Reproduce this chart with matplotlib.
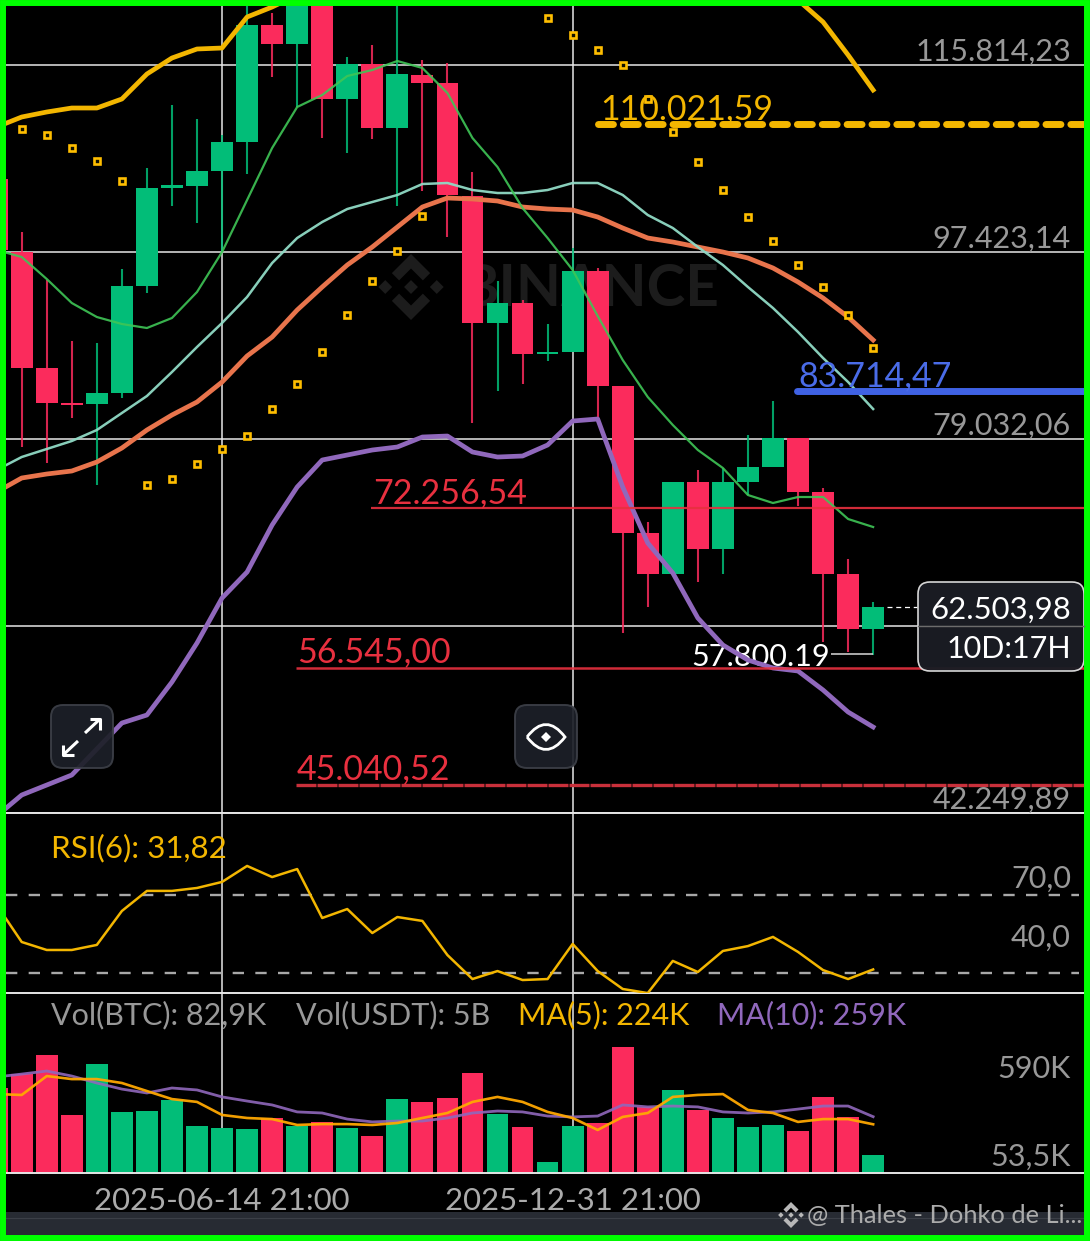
import numpy as np
import matplotlib
matplotlib.use("Agg")
import matplotlib.pyplot as plt
from matplotlib.patches import FancyBboxPatch, PathPatch, Polygon, Rectangle
from matplotlib.path import Path

plt.rcParams['font.family'] = ['Lato', 'DejaVu Sans']

nan = float('nan')

# candles start one bar left of the frame (only its edge shows)
index = np.arange(-1, 35)
opens = [104603, 97423, 86014, 82572, 82473, 83556, 94079, 103717, 103914, 105388, 108242, 119748,
         117880, 124174, 112470, 115913, 109618, 114831, 114044, 102930, 90440, 92407, 87391, 87588,
         95554, 84244, 69786, 65754, 74802, 68213, 74802, 76278, 79132, 73819, 65754, 60345]
closes = [97620, 86014, 82572, 82375, 83556, 94079, 103717, 104012, 105388, 108242, 119748, 117880,
          124174, 112470, 115913, 109618, 114929, 114044, 103029, 90440, 92407, 87391, 87588, 95554,
          84244, 69786, 65754, 74802, 68213, 74802, 76278, 79132, 73819, 65754, 60345, 62503.98]
highs = [104603, 99390, 94669, 88670, 88473, 95751, 105684, 111880, 110503, 108930, 123190, 120928,
         124500, 124500, 116601, 117781, 124000, 116306, 116011, 105290, 94571, 92702, 90342, 97816,
         95849, 84244, 70868, 74802, 75982, 76179, 79427, 82769, 79132, 74212, 67229, 63000]
lows = [97620, 78245, 76671, 81096, 74507, 83064, 93391, 101947, 100275, 97423, 105094, 114634,
        111684, 108635, 107160, 108537, 101947, 103422, 98898, 80604, 83752, 84441, 86703, 87588,
        81096, 59951, 62509, 65754, 64967, 65754, 73524, 76278, 72442, 59066, 58083, 57800.19]

ema_yellow = [109717, 110700, 111192, 111585, 111585, 112470, 114929, 116503, 117388, 117486, 120535, 121519,
              122699, nan, nan, nan, nan, nan, nan, nan, nan, nan, nan, nan,
              nan, nan, nan, nan, nan, nan, nan, 123682, 122207, 120043, 116798, 113355]
ema_orange = [73819, 75196, 75589, 75884, 76769, 78146, 79916, 81392, 82670, 84637, 87194, 89063,
              91718, 93981, 96144, 97915, 99882, 101849, 102734, 102635, 102439, 101849, 101652, 101553,
              100865, 99783, 98800, 98406, 97915, 97423, 96833, 95849, 94472, 92899, 91030, 88768]
ema_teal = [75982, 77261, 78048, 78835, 79916, 81588, 83260, 85621, 88080, 90440, 92997, 96341,
            98800, 100373, 101652, 102340, 103029, 104111, 104209, 103520, 103225, 103225, 103520, 104209,
            104209, 103029, 101062, 99783, 97915, 96144, 93981, 91915, 89555, 86998, 84637, 81982]
ma_green = [97619, 96931, 94767, 92407, 91030, 90342, 89948, 90932, 93489, 97423, 102537, 107651,
            111684, 112864, 114732, 115322, 116208, 115519, 113060, 108635, 105783, 101750, 98800, 95652,
            91128, 86801, 83162, 80408, 77949, 76179, 73524, 72737, 73327, 73327, 71163, 70377]
ema_purple = [41953, 44019, 45002, 45986, 48543, 51100, 51887, 55132, 58968, 63394, 65951, 70573,
              74311, 76966, 77458, 77949, 78245, 79228, 79326, 77753, 77261, 77359, 78441, 80802,
              80998, 74311, 68803, 65852, 61427, 58771, 57296, 56509, 56214, 54345, 52182, 50707]
sar = [nan, 109520, 108930, 107651, 106373, 104406, 74507, 75097, 76573, 78048, 79326, 81982,
       84441, 87588, 91227, 94571, 97521, 100963, nan, nan, nan, nan, 120437, 118765,
       117289, 115814, 112470, 109225, 106274, 103520, 100865, 98505, 96144, 93981, 91227, 87981]

rsi = [64.9, 45.9, 41.8, 41.8, 44.4, 61.8, 72.1, 72.1, 73.6, 76.7, 84.9, 79.2,
       83.3, 58.2, 62.8, 50.5, 58.7, 56.7, 39.2, 26.9, 31.0, 26.4, 26.9, 44.9,
       31.0, 21.8, 19.7, 36.2, 30.5, 41.3, 43.8, 48.5, 40.8, 31.5, 26.9, 31.82]

# thousands of BTC
volume = [391, 455, 543, 267, 501, 281, 285, 336, 216, 207, 202, 253,
          216, 235, 207, 170, 340, 327, 345, 460, 271, 212, 51, 216,
          230, 581, 304, 382, 290, 253, 212, 221, 193, 350, 258, 82.9]
vol_ma5 = [363, 359, 446, 432, 432, 414, 377, 340, 327, 267, 253, 248,
           221, 225, 225, 221, 230, 253, 276, 327, 350, 327, 281, 253,
           198, 258, 276, 350, 359, 363, 290, 276, 235, 248, 248, 224]
vol_ma10 = [442, 455, 469, 446, 414, 386, 368, 391, 382, 350, 331, 313,
            281, 276, 248, 235, 239, 239, 253, 276, 285, 281, 262, 258,
            262, 313, 304, 308, 304, 281, 276, 281, 294, 308, 308, 259]

price_ticks = [115814.23, 97423.14, 79032.06, 60640.98, 42249.89]
price_labels = ['115.814,23', '97.423,14', '79.032,06', '', '42.249,89']
date_ticks = [8, 22]
date_labels = ['2025-06-14 21:00', '2025-12-31 21:00']
last_price = 62503.98
low_price = 57800.19

GREEN = '#02BD78'
RED = '#FB2B5C'
YELLOW = '#F3B600'
PURPLE = '#9068BC'
TEAL = '#90DAC5'
ORANGE = '#E8744C'
MA_GREEN = '#3FC556'
GRID = '#E6E6E6'
LABEL = '#989898'
LEVEL_RED = '#E8303F'

W, H = 1090, 1241
XLIM = (-0.627, 42.42)


def panel(top, bottom):
    ax = fig.add_axes([6 / W, 1 - bottom / H, 1078 / W, (bottom - top) / H])
    ax.set_facecolor('none')
    ax.set_xlim(*XLIM)
    ax.set_xticks(date_ticks)
    ax.tick_params(length=0, labelleft=False, labelbottom=False)
    ax.grid(axis='x', color=GRID, lw=1.1, zorder=0)
    for side in ['top', 'left', 'right']:
        ax.spines[side].set_visible(False)
    ax.spines['bottom'].set_color(GRID)
    ax.spines['bottom'].set_linewidth(1.4)
    ax.set_axisbelow(True)
    ax.set_zorder(2)
    return ax


def bar_x(px):
    return (px - 21.7) / 25.04


def right_label(ax, value, text, color=LABEL, size=22, dy=1):
    ax.annotate(text, xy=(1, value), xycoords=ax.get_yaxis_transform(), xytext=(-13, dy),
                textcoords='offset pixels', ha='right', va='bottom', color=color, fontsize=size, zorder=8)


def binance_logo(ax, cx, cy, r, color, zorder=1):
    # the three small diamonds and the two chevrons of the exchange mark
    d = r * 0.21
    for dx in [0, -r * 0.78, r * 0.78]:
        ax.add_patch(Polygon([(cx + dx - d, cy), (cx + dx, cy - d), (cx + dx + d, cy), (cx + dx, cy + d)],
                             color=color, lw=0, zorder=zorder))
    for s in [-1, 1]:
        ax.add_patch(Polygon([(cx, cy + s * r), (cx + r * 0.58, cy + s * r * 0.42), (cx + r * 0.36, cy + s * r * 0.2),
                              (cx, cy + s * r * 0.56), (cx - r * 0.36, cy + s * r * 0.2), (cx - r * 0.58, cy + s * r * 0.42)],
                             color=color, lw=0, zorder=zorder))


fig = plt.figure(figsize=(W / 100, H / 100), dpi=100, facecolor='black')

# background layer: footer strip and watermark
bg = fig.add_axes([0, 0, 1, 1], zorder=0)
bg.set_xlim(0, W)
bg.set_ylim(H, 0)
bg.axis('off')
bg.add_patch(Rectangle((0, 1212), W, 24, color='#272B33', lw=0))
bg.plot([0, W], [1218, 1218], color='#3B3F47', lw=0.8)
binance_logo(bg, 411, 287, 33, '#1C1C1C')
bg.text(460, 290, 'BINANCE', color='#1C1C1C', fontsize=42, fontweight='bold', va='center', ha='left')

# price panel
ax = panel(6, 813)
ax.set_ylim(42249.89, 121617)
ax.set_yticks(price_ticks)
ax.grid(axis='y', color=GRID, lw=1.1, zorder=0)
for value, text in zip(price_ticks, price_labels):
    right_label(ax, value, text, dy=-1)

colors = [GREEN if c >= o else RED for o, c in zip(opens, closes)]
ax.vlines(index, lows, highs, colors=colors, lw=1.5, alpha=0.85, zorder=2)
ax.bar(index, np.abs(np.subtract(closes, opens)), bottom=np.minimum(opens, closes), width=0.87,
       color=colors, lw=0, zorder=2.1)

ax.plot(index, ema_purple, color=PURPLE, lw=3.4, zorder=3)
ax.plot(index, ema_orange, color=ORANGE, lw=3.4, zorder=3)
ax.plot(index, ema_yellow, color=YELLOW, lw=3.4, zorder=3)
ax.plot(index, ema_teal, color=TEAL, lw=1.8, alpha=0.95, zorder=3)
ax.plot(index, ma_green, color=MA_GREEN, lw=1.6, alpha=0.9, zorder=3)
ax.plot(index, sar, ls='none', marker='s', ms=3.9, mfc='#111100', mec='#FFBE00', mew=1.9, zorder=3.2)

# drawn price levels
ax.hlines(110021.59, bar_x(598), XLIM[1], color=YELLOW, lw=5, linestyles=(0, (2.15, 1.43)), capstyle='round', zorder=4)
ax.hlines(83714.47, bar_x(797), XLIM[1], color='#3F62E4', lw=5, capstyle='round', zorder=4)
ax.hlines(72256.54, bar_x(371), XLIM[1], color=LEVEL_RED, lw=1.6, alpha=0.9, zorder=4)
ax.hlines(56545.00, bar_x(296), XLIM[1], color=LEVEL_RED, lw=1.8, alpha=0.9, zorder=4)
ax.hlines(45040.52, bar_x(296), XLIM[1], color='#C9303B', lw=2.4, linestyles=(0, (6, 0.3)), zorder=4)

level_text = [(110021.59, bar_x(600), '110.021,59', YELLOW),
              (83714.47, bar_x(798), '83.714,47', '#4A6CE8'),
              (72256.54, bar_x(373), '72.256,54', LEVEL_RED),
              (56545.00, bar_x(297), '56.545,00', LEVEL_RED),
              (45040.52, bar_x(297), '45.040,52', LEVEL_RED)]
for value, x, text, color in level_text:
    size = 24.5
    ax.annotate(text, xy=(x, value), xytext=(0, -1), textcoords='offset pixels', color=color,
                fontsize=size, ha='left', va='bottom', zorder=5)

# lowest price marker
ax.annotate('57.800.19', xy=(bar_x(830), low_price), xytext=(0, -2), textcoords='offset pixels',
            color='white', fontsize=22, ha='right', va='center', zorder=2.9)
ax.hlines(low_price + 50, bar_x(831), 34, color='#C8C8C8', lw=1.2, zorder=2)
ax.hlines(last_price, bar_x(887), bar_x(917), color='white', lw=0.9, linestyles=(0, (4, 3)), zorder=2)

# RSI panel
ax_rsi = panel(813, 993)
ax_rsi.set_ylim(19.74, 112.05)
ax_rsi.set_yticks([])
for level in [70, 30]:
    ax_rsi.axhline(level, color='#A8A8A8', lw=1.7, ls=(0, (4.8, 4.8)), xmax=0.995, zorder=1)
ax_rsi.plot(index, rsi, color=YELLOW, lw=1.8, zorder=3)
right_label(ax_rsi, 70, '70,0', dy=2)
right_label(ax_rsi, 40, '40,0', dy=2)
ax_rsi.text(bar_x(51), 94, 'RSI(6): 31,82', color=YELLOW, fontsize=22.6, va='center')

# volume panel
ax_vol = panel(993, 1173)
ax_vol.set_ylim(0, 828)
ax_vol.set_yticks([])
ax_vol.bar(index, volume, width=0.87, color=colors, lw=0, zorder=2)
ax_vol.plot(index, vol_ma10, color=PURPLE, lw=2.0, alpha=0.9, zorder=3)
ax_vol.plot(index, vol_ma5, color='#FFA800', lw=1.9, alpha=0.95, zorder=3)
right_label(ax_vol, 400, '590K', dy=3)
right_label(ax_vol, 0, '53,5K', dy=2)
vol_text = [(51, 'Vol(BTC): 82,9K', LABEL), (296, 'Vol(USDT): 5B', LABEL),
            (518, 'MA(5): 224K', YELLOW), (717, 'MA(10): 259K', PURPLE)]
for px, text, color in vol_text:
    ax_vol.text(bar_x(px), 725, text, color=color, fontsize=22, va='center')
ax_vol.set_xticklabels(date_labels)
ax_vol.tick_params(axis='x', labelbottom=True, labelcolor='#ABABAB', labelsize=22.4, pad=10)

# interface layer on top of the chart
top = fig.add_axes([0, 0, 1, 1], zorder=6)
top.set_xlim(0, W)
top.set_ylim(H, 0)
top.axis('off')
top.set_facecolor('none')

top.add_patch(FancyBboxPatch((918, 582), 166, 89, boxstyle='round,pad=0,rounding_size=12',
                             fc='#1A1D24', ec='#DDDDDD', lw=1.2, alpha=0.97))
top.plot([918, 1084], [626, 626], color='#6C6C6C', lw=1)
top.text(1071, 610, '62.503,98', color='white', fontsize=22.4, ha='right', va='center')
top.text(1071, 649, '10D:17H', color='white', fontsize=22, ha='right', va='center')

for x0 in [51, 515]:
    top.add_patch(FancyBboxPatch((x0, 705), 62, 63, boxstyle='round,pad=0,rounding_size=12',
                                 fc='#1D2028', ec='#3C3F47', lw=1.4, alpha=0.93))

# expand arrows
for xs, ys in [([85, 100], [733, 719]), ([90, 100, 100], [719, 719, 730]),
               ([78, 63], [741, 755]), ([63, 63, 74], [745, 755, 755])]:
    top.plot(xs, ys, color='white', lw=2.2, solid_capstyle='butt')

# eye icon
eye = Path([(527, 737), (546, 712), (565, 737), (546, 762), (527, 737)],
           [Path.MOVETO, Path.CURVE3, Path.CURVE3, Path.CURVE3, Path.CURVE3])
top.add_patch(PathPatch(eye, fc='none', ec='white', lw=2))
top.add_patch(Polygon([(541, 737), (546, 732), (551, 737), (546, 742)], color='white', lw=0))

# footer credit
binance_logo(top, 791, 1215, 13, '#B8B8B8', zorder=3)
top.text(1082, 1215, '@ Thales - Dohko de Li...', color='#ABABAB', fontsize=18.3, ha='right', va='center')

# green frame of the screenshot
top.add_patch(Rectangle((3, 3), 1084, 1235, fc='none', ec='#00FF00', lw=4.3))

fig.savefig('out.png', dpi=100, facecolor='black')
